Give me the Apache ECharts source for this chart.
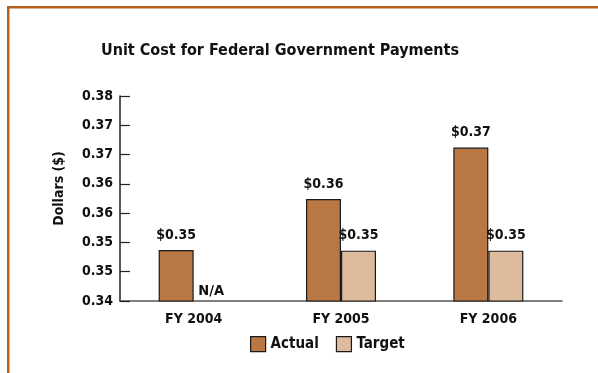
<!DOCTYPE html>
<html>
<head>
<meta charset="utf-8">
<script src="https://cdn.jsdelivr.net/npm/echarts@6/dist/echarts.min.js"></script>
<style>
  html, body { margin: 0; padding: 0; background: #ffffff; }
  #chart { width: 598px; height: 373px; }
</style>
</head>
<body>
<div id="chart"></div>
<script>
// Fiscal years on the category axis
const categories = ['FY 2004', 'FY 2005', 'FY 2006'];
// Unit cost per payment, dollars (no target was set for FY 2004)
const actualValues = [0.3487, 0.3574, 0.3662];
const targetValues = [null, 0.3486, 0.3486];
// Value axis labels, shown rounded to the cent
const yTickLabels = ['0.34', '0.35', '0.35', '0.36', '0.36', '0.37', '0.37', '0.38'];
const Y_MIN = 0.34;
const Y_STEP = 0.005;
const Y_MAX = 0.375;

const FONT = "'DejaVu Sans Condensed', 'Liberation Sans Narrow', sans-serif";
const ACTUAL_COLOR = '#b97743';
const TARGET_COLOR = '#dfbb9d';
const FRAME_COLOR = '#b5601d';
const INK = '#111';

const money = v => '$' + Number(v).toFixed(2);

const chart = echarts.init(document.getElementById('chart'), null, { renderer: 'canvas' });

// A missing target is drawn as an invisible bar on the baseline carrying an "N/A" label
const targetData = targetValues.map(v =>
  v === null
    ? {
        value: Y_MIN,
        itemStyle: { color: 'rgba(0,0,0,0)', borderWidth: 0 },
        label: { formatter: 'N/A', distance: 2, fontSize: 14.5 }
      }
    : v
);

chart.setOption({
  animation: false,
  textStyle: { fontFamily: FONT },
  title: {
    text: 'Unit Cost for Federal Government Payments',
    left: 275,
    textAlign: 'center',
    top: 38,
    textStyle: { fontFamily: FONT, fontSize: 16, fontWeight: 'bold', color: INK }
  },
  legend: {
    data: ['Actual', 'Target'],
    left: 245,
    top: 331,
    icon: 'rect',
    itemWidth: 15,
    itemHeight: 15,
    itemGap: 17,
    itemStyle: { borderColor: '#1a1a1a', borderWidth: 1.2 },
    textStyle: { fontFamily: FONT, fontSize: 15, fontWeight: 'bold', color: INK }
  },
  grid: { left: 120, top: 96, width: 442, height: 205, containLabel: false },
  xAxis: {
    type: 'category',
    data: categories,
    axisLine: { lineStyle: { color: '#555', width: 1.5 } },
    axisTick: { show: false },
    axisLabel: { fontFamily: FONT, fontSize: 14, fontWeight: 'bold', color: INK, margin: 11 }
  },
  yAxis: {
    type: 'value',
    min: Y_MIN,
    max: Y_MAX,
    interval: Y_STEP,
    name: 'Dollars ($)',
    nameLocation: 'middle',
    nameRotate: 90,
    nameGap: 54,
    nameTextStyle: { fontFamily: FONT, fontSize: 14, fontWeight: 'bold', color: INK, padding: [0, 0, 0, 20] },
    splitLine: { show: false },
    axisLine: { show: true, lineStyle: { color: '#222', width: 1.5 } },
    axisTick: { show: true, inside: true, length: 10, lineStyle: { color: '#222', width: 1.2 } },
    axisLabel: {
      fontFamily: FONT, fontSize: 14, fontWeight: 'bold', color: INK, margin: 7,
      formatter: v => yTickLabels[Math.round((v - Y_MIN) / Y_STEP)]
    }
  },
  series: [
    {
      name: 'Actual',
      type: 'bar',
      data: actualValues,
      barWidth: 35,
      barGap: '0%',
      itemStyle: { color: ACTUAL_COLOR, borderColor: '#1a1a1a', borderWidth: 1.2 },
      label: {
        show: true, position: 'top', distance: 8,
        fontFamily: FONT, fontSize: 14, fontWeight: 'bold', color: INK,
        formatter: p => money(p.value)
      }
    },
    {
      name: 'Target',
      type: 'bar',
      data: targetData,
      barWidth: 35,
      itemStyle: { color: TARGET_COLOR, borderColor: '#1a1a1a', borderWidth: 1.2 },
      label: {
        show: true, position: 'top', distance: 8,
        fontFamily: FONT, fontSize: 14, fontWeight: 'bold', color: INK,
        formatter: p => money(p.value)
      }
    }
  ],
  graphic: [
    { type: 'rect', shape: { x: 7, y: 6, width: 591, height: 2.5 }, style: { fill: FRAME_COLOR } },
    { type: 'rect', shape: { x: 7, y: 6, width: 2.5, height: 367 }, style: { fill: FRAME_COLOR } }
  ]
});
</script>
</body>
</html>
